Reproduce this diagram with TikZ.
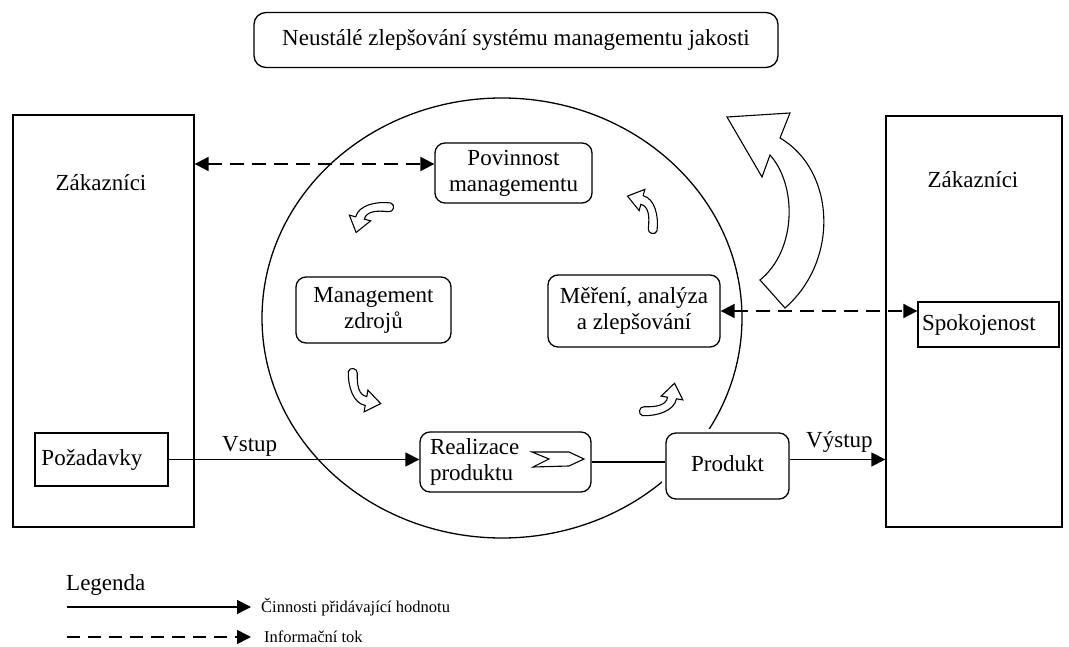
\documentclass[tikz,border=0pt]{standalone}
\usepackage{fontspec}
\setmainfont{Liberation Serif}
\usetikzlibrary{arrows.meta}
\begin{document}
\begin{tikzpicture}[x=1pt,y=-1pt,
  lbl/.style={font=\fontsize{23}{26}\selectfont, inner sep=0pt},
  small/.style={font=\fontsize{16.5}{18}\selectfont, inner sep=0pt, anchor=west},
  rbox/.style={draw, rounded corners=10pt, line width=1.3pt, fill=white, inner sep=0pt,
               font=\fontsize{23}{26}\selectfont, align=center},
  sbox/.style={draw, line width=1.3pt, fill=white, inner sep=0pt,
               font=\fontsize{23}{26}\selectfont},
  tip/.style={Triangle[length=14pt,width=14pt]},
  flow/.style={line width=1.3pt, -{Triangle[length=14pt,width=14pt]}},
  info/.style={line width=1.8pt, dash pattern=on 14pt off 8pt,
               {Triangle[length=14pt,width=14pt]}-{Triangle[length=14pt,width=14pt]}},
  blockarrow/.style={draw, line width=1.1pt, fill=white, line join=miter},
  bend arrow/.pic={
    \draw[blockarrow] (-22.5,-26) .. controls (-20.5,-11) and (-12,4.5) .. (0,4.5)
      -- (0,11) -- (15,0) -- (0,-11) -- (0,-4.5)
      .. controls (-8,-4.5) and (-11.5,-13) .. (-13.5,-26)
      .. controls (-14,-31) and (-22,-31) .. cycle;
  }
]
\useasboundingbox (0,0) rectangle (1069,647);

% the improvement cycle
\draw[line width=1.3pt] (502,318) ellipse [x radius=240, y radius=220];

% title
\node[rbox, rounded corners=12pt, minimum width=524pt, minimum height=55pt] (title) at (516,40)
  {Neustálé zlepšování systému managementu jakosti};

% customers on the left
\node[sbox, minimum width=181pt, minimum height=412pt] (zl) at (103.5,321) {};
\node[lbl] (zlt) at (101,183) {Zákazníci};
\node[sbox, minimum width=133pt, minimum height=53pt, text width=120pt, align=left] (pz) at (101.5,459.5) {Požadavky};

% customers on the right
\node[sbox, minimum width=176pt, minimum height=411pt] (zr) at (974,321.5) {};
\node[lbl] (zrt) at (973,180) {Zákazníci};
\node[sbox, minimum width=141pt, minimum height=45pt, text width=133pt, align=left] (sp) at (988.5,324.5) {Spokojenost};

% processes inside the cycle
\node[rbox, minimum width=157pt, minimum height=60pt] (pm) at (513.5,173) {Povinnost\\managementu};
\node[rbox, minimum width=155pt, minimum height=66pt] (mg) at (373.5,310) {Management\\zdrojů};
\node[rbox, minimum width=172pt, minimum height=72pt] (mz) at (634,311) {Měření, analýza\\a zlepšování};
\node[rbox, minimum width=171pt, minimum height=60pt, text width=151pt, align=left] (rp) at (505.5,462) {Realizace\\produktu};
\node[rbox, minimum width=123pt, minimum height=66pt,
      preaction={draw=white, line width=8pt}] (pr) at (727.5,466) {\raisebox{5pt}{Produkt}};

% chevron inside the realisation box
\draw[line width=1.1pt, fill=white] (532,452) -- (569,452) -- (584,459) -- (569,466)
  -- (533,467) -- (549,459) -- cycle;

% value-adding flow
\draw[flow] (pz.east) -- (pz.east -| rp.west);
\node[lbl, anchor=base west] (vs) at (222,451) {Vstup};
\draw[line width=1.3pt] (rp.east) -- (rp.east -| pr.west);
\draw[flow] (pr.east |- pz.east) -- (pz.east -| zr.west);
\node[lbl, anchor=base west] (vy) at (806,447) {Výstup};

% information flow
\coordinate (pmIn) at ([yshift=9pt]pm.west);
\draw[info] (zl.east |- pmIn) -- (pmIn);
\draw[info] (mz.east) -- (mz.east -| sp.west);

% small circulating arrows
\pic[rotate=-10] at (366,401) {bend arrow};
\pic[rotate=80]  at (672,398) {bend arrow};
\pic[rotate=165] at (642,200) {bend arrow};
\pic[rotate=255] at (360,218) {bend arrow};

% large improvement arrow
\draw[blockarrow] (727,117) -- (790,113) -- (780,138)
  .. controls (835,170) and (840,260) .. (785,308) -- (760,280)
  .. controls (797,250) and (797,185) .. (770,155) -- (762,177) -- cycle;

% legend
\node[lbl, anchor=base west] (leg) at (66,590) {Legenda};
\coordinate (la) at (67,607);
\coordinate (lb) at (251,607);
\draw[flow] (la) -- (lb);
\node[small] (lt1) at (261,607) {Činnosti přidávající hodnotu};
\coordinate (lc) at (67,637);
\coordinate (ld) at (251,637);
\draw[line width=1.6pt, dash pattern=on 13pt off 8pt, -{Triangle[length=14pt,width=14pt]}] (lc) -- (ld);
\node[small] (lt2) at (264,637) {Informační tok};
\end{tikzpicture}
\end{document}
